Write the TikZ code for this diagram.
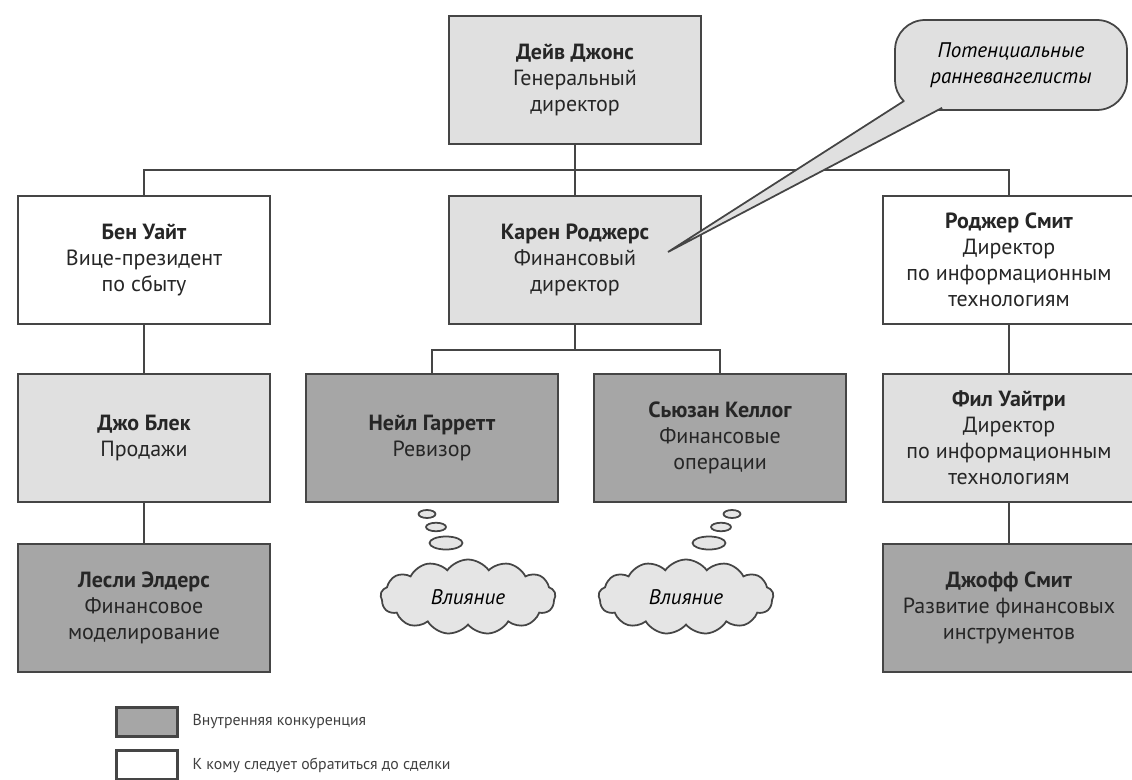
\documentclass[tikz,border=0pt]{standalone}
\usepackage{fontspec}
\setmainfont{PT Sans}
\usetikzlibrary{positioning,shapes.geometric,shapes.symbols}

\definecolor{edgegray}{gray}{0.27}
\definecolor{lightfill}{gray}{0.88}
\definecolor{darkfill}{gray}{0.65}
\definecolor{cloudfill}{gray}{0.9}

\begin{document}
\begin{tikzpicture}[x=0.02cm, y=-0.02cm,
    person/.style={draw=edgegray, line width=1.6pt, minimum width=5.04cm,
      minimum height=2.56cm, align=center, text=black!85,
      font=\fontsize{12.5}{14.8}\selectfont},
    plain/.style={person, fill=white},
    light/.style={person, fill=lightfill},
    dark/.style={person, fill=darkfill},
    link/.style={draw=edgegray, line width=1.6pt},
    puff/.style={ellipse, draw=edgegray, line width=1pt, fill=cloudfill, inner sep=0pt},
    influence/.style={cloud, cloud puffs=13, cloud puff arc=110, aspect=2.3,
      draw=edgegray, line width=1pt, fill=cloudfill, minimum width=3.5cm,
      minimum height=1.5cm, font=\fontsize{12}{14}\selectfont\itshape},
    note/.style={draw=edgegray, line width=1pt, fill=lightfill, rounded corners=0.6cm,
      minimum width=4.64cm, minimum height=1.8cm, align=center,
      font=\fontsize{12}{14.5}\selectfont\itshape},
    key/.style={draw=edgegray, line width=1.6pt, minimum width=1.22cm, minimum height=0.58cm},
    keytext/.style={text=black!75, font=\fontsize{9}{11}\selectfont}
  ]
  \useasboundingbox (0,0) rectangle (1132,780);

  % Top level
  \node[light] (ceo) at (575,80) {\textbf{Дейв Джонс}\\Генеральный\\директор};

  % Second level
  \node[plain] (ben) at (144,260) {\textbf{Бен Уайт}\\Вице-президент\\по сбыту};
  \node[light] (karen) at (575,260) {\textbf{Карен Роджерс}\\Финансовый\\директор};
  \node[plain] (roger) at (1009,260) {\textbf{Роджер Смит}\\Директор\\по информационным\\технологиям};

  % Third level
  \node[light] (joe) at (144,438) {\textbf{Джо Блек}\\Продажи};
  \node[dark] (neil) at (432,438) {\textbf{Нейл Гарретт}\\Ревизор};
  \node[dark] (susan) at (720,438) {\textbf{Сьюзан Келлог}\\Финансовые\\операции};
  \node[light] (phil) at (1009,438) {\textbf{Фил Уайтри}\\Директор\\по информационным\\технологиям};

  % Fourth level
  \node[dark] (leslie) at (144,608) {\textbf{Лесли Элдерс}\\Финансовое\\моделирование};
  \node[dark] (geoff) at (1009,608) {\textbf{Джофф Смит}\\Развитие финансовых\\инструментов};

  % Connectors
  \coordinate (bus) at (575,170);
  \coordinate (kbus) at (575,350);
  \draw[link] (ceo) -- (bus);
  \draw[link] (ben.north) |- (bus) -| (roger.north);
  \draw[link] (bus) -- (karen);
  \draw[link] (karen) -- (kbus);
  \draw[link] (neil.north) |- (kbus) -| (susan.north);
  \draw[link] (ben) -- (joe);
  \draw[link] (joe) -- (leslie);
  \draw[link] (roger) -- (phil);
  \draw[link] (phil) -- (geoff);

  % Thought clouds
  \node[puff, minimum width=0.34cm, minimum height=0.16cm] (na) at (427,514) {};
  \node[puff, minimum width=0.4cm, minimum height=0.17cm] (nb) at (436,527) {};
  \node[puff, minimum width=0.66cm, minimum height=0.26cm] (nc) at (446,543) {};
  \node[influence] (nthink) at (468,597) {Влияние};

  \node[puff, minimum width=0.34cm, minimum height=0.16cm] (sa) at (732,514) {};
  \node[puff, minimum width=0.4cm, minimum height=0.17cm] (sb) at (721,527) {};
  \node[puff, minimum width=0.66cm, minimum height=0.26cm] (sc) at (709,543) {};
  \node[influence] (sthink) at (686,597) {Влияние};

  % Callout
  \node[note] (evang) at (1011,65) {Потенциальные\\ранневангелисты};
  \coordinate (tip) at (668,252);
  \fill[lightfill] (tip) -- ([shift={(10,-10)}]evang.south west)
    -- ([shift={(48,-3)}]evang.south west) -- cycle;
  \draw[draw=edgegray, line width=1pt] ([shift={(10,-10)}]evang.south west)
    -- (tip) -- ([shift={(48,-3)}]evang.south west);

  % Legend
  \node[key, fill=darkfill] (keydark) at (147,722) {};
  \node[key, fill=white] (keywhite) at (147,765) {};
  \node[keytext, right=0.15cm of keydark] {Внутренняя конкуренция};
  \node[keytext, right=0.15cm of keywhite] {К кому следует обратиться до сделки};
\end{tikzpicture}
\end{document}
